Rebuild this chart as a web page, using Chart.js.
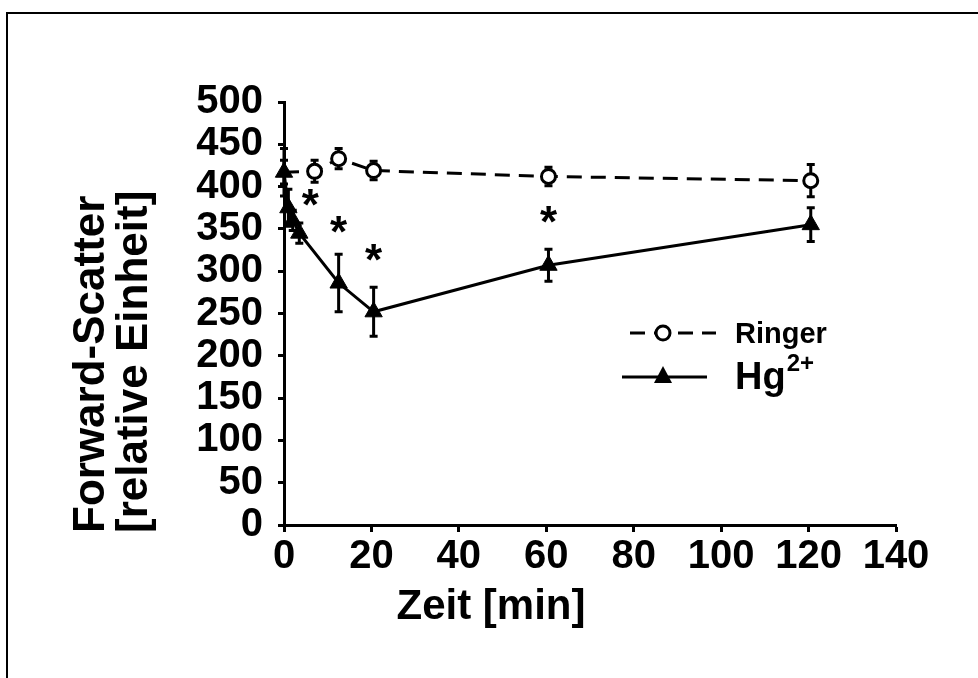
<!DOCTYPE html>
<html><head><meta charset="utf-8">
<script src="https://cdn.jsdelivr.net/npm/chart.js@4/dist/chart.umd.min.js"></script>
<style>html,body{margin:0;padding:0;background:#fff;overflow:hidden}#wrap{position:relative;width:978px;height:678px}</style>
</head><body><div id="wrap"><canvas id="c" width="978" height="678"></canvas></div>
<script>
// ---- data ----
const ringerTime   = [0, 7, 12.5, 20.5, 60.5, 120.5];
const ringerValues = [417, 418, 433, 419, 412, 407];
const ringerErrors = [28, 13, 12, 11, 11, 19];

const hgTime   = [0, 1, 2, 3.5, 12.5, 20.5, 60.5, 120.5];
const hgValues = [417, 375, 360, 345, 286, 252, 307, 355];
const hgErrors = [14, 22, 12, 12, 34, 29, 19, 20];

const starTime   = [6, 12.5, 20.5, 60.5];
const starValues = [370, 339, 306, 350];

const xTickValues = [0, 20, 40, 60, 80, 100, 120, 140];
const yTickValues = [0, 50, 100, 150, 200, 250, 300, 350, 400, 450, 500];

const xTitle = 'Zeit [min]';
const yTitleLines = ['Forward-Scatter', '[relative Einheit]'];
const seriesNames = ['Ringer', 'Hg'];
const hgSup = '2+';

const FONT = '"Liberation Sans", Arial, sans-serif';

const pts = (t, v) => t.map((x, i) => ({x: x, y: v[i]}));

const deco = {
  id: 'deco',
  beforeDatasetsDraw(chart) {
    const ctx = chart.ctx, xs = chart.scales.x, ys = chart.scales.y;
    const sets = [[hgTime, hgValues, hgErrors], [ringerTime, ringerValues, ringerErrors]];
    ctx.save();
    ctx.strokeStyle = '#000'; ctx.lineWidth = 3; ctx.setLineDash([]);
    sets.forEach(([t, v, e]) => {
      t.forEach((tt, i) => {
        const x = xs.getPixelForValue(tt);
        const y1 = ys.getPixelForValue(v[i] + e[i]);
        const y2 = ys.getPixelForValue(v[i] - e[i]);
        ctx.beginPath();
        ctx.moveTo(x, y1); ctx.lineTo(x, y2);
        ctx.moveTo(x - 4, y1); ctx.lineTo(x + 4, y1);
        ctx.moveTo(x - 4, y2); ctx.lineTo(x + 4, y2);
        ctx.stroke();
      });
    });
    ctx.restore();
  },
  afterDraw(chart) {
    const ctx = chart.ctx, xs = chart.scales.x, ys = chart.scales.y, ca = chart.chartArea;
    ctx.save();
    // frame
    ctx.strokeStyle = '#000'; ctx.lineWidth = 2;
    ctx.beginPath();
    ctx.moveTo(7, 680); ctx.lineTo(7, 13); ctx.lineTo(980, 13);
    ctx.stroke();
    ctx.fillStyle = '#000';
    // asterisks
    ctx.font = 'bold 44px ' + FONT;
    ctx.textAlign = 'center'; ctx.textBaseline = 'alphabetic';
    starTime.forEach((t, i) => {
      const x = xs.getPixelForValue(t), y = ys.getPixelForValue(starValues[i]);
      const m = ctx.measureText('*');
      const h = m.actualBoundingBoxAscent - m.actualBoundingBoxDescent;
      ctx.fillText('*', x, y + m.actualBoundingBoxAscent - h / 2);
    });
    // x title
    ctx.font = 'bold 42px ' + FONT;
    ctx.textAlign = 'center'; ctx.textBaseline = 'alphabetic';
    ctx.fillText(xTitle, ca.left + 207, 619);
    // y title (two lines, start-aligned at bottom)
    ctx.font = 'bold 44px ' + FONT;
    ctx.textAlign = 'left'; ctx.textBaseline = 'alphabetic';
    [[104, yTitleLines[0]], [147, yTitleLines[1]]].forEach(([bx, s]) => {
      ctx.save();
      ctx.translate(bx, ca.bottom + 8);
      ctx.rotate(-Math.PI / 2);
      ctx.fillText(s, 0, 0);
      ctx.restore();
    });
    // legend
    const ly1 = 333, ly2 = 377;
    ctx.lineWidth = 3; ctx.strokeStyle = '#000';
    ctx.setLineDash([15, 9]);
    ctx.beginPath(); ctx.moveTo(630, ly1); ctx.lineTo(716, ly1); ctx.stroke();
    ctx.setLineDash([]);
    ctx.beginPath(); ctx.arc(663, ly1, 7, 0, Math.PI * 2);
    ctx.fillStyle = '#fff'; ctx.fill(); ctx.stroke();
    ctx.fillStyle = '#000';
    ctx.beginPath(); ctx.moveTo(622, ly2); ctx.lineTo(707, ly2); ctx.stroke();
    ctx.beginPath();
    ctx.moveTo(663, ly2 - 11); ctx.lineTo(672, ly2 + 6); ctx.lineTo(654, ly2 + 6); ctx.closePath();
    ctx.fill();
    ctx.textAlign = 'left'; ctx.textBaseline = 'alphabetic';
    ctx.font = 'bold 29px ' + FONT;
    ctx.fillText(seriesNames[0], 735, ly1 + 10);
    ctx.font = 'bold 38px ' + FONT;
    ctx.fillText(seriesNames[1], 735, ly2 + 12);
    const w = ctx.measureText(seriesNames[1]).width;
    ctx.font = 'bold 24px ' + FONT;
    ctx.fillText(hgSup, 735 + w + 1, ly2 - 6);
    ctx.restore();
  }
};

new Chart(document.getElementById('c'), {
  type: 'line',
  data: {
    datasets: [
      {
        label: seriesNames[1] + hgSup,
        data: pts(hgTime, hgValues),
        borderColor: '#000', borderWidth: 3,
        pointStyle: 'triangle', pointRadius: 10,
        pointBackgroundColor: '#000', pointBorderColor: '#000', pointBorderWidth: 1,
        clip: false, order: 0
      },
      {
        label: seriesNames[0],
        data: pts(ringerTime, ringerValues),
        borderColor: '#000', borderWidth: 3, borderDash: [15, 9],
        pointStyle: 'circle',
        pointRadius: c => (c.dataIndex === 0 ? 0 : 7),
        pointBackgroundColor: '#fff', pointBorderColor: '#000', pointBorderWidth: 3,
        clip: false, order: 1
      }
    ]
  },
  options: {
    responsive: false, animation: false, devicePixelRatio: 1,
    layout: {padding: {top: 102, right: 82, bottom: 0, left: 0}},
    plugins: {legend: {display: false}, tooltip: {enabled: false}},
    scales: {
      x: {
        type: 'linear', min: 0, max: 140,
        afterBuildTicks: s => { s.ticks = xTickValues.map(v => ({value: v})); },
        afterFit: s => { s.height = 153; },
        border: {display: true, color: '#000', width: 3},
        grid: {drawOnChartArea: false, drawTicks: true, tickLength: 7, tickWidth: 3, tickColor: '#000'},
        ticks: {color: '#000', font: {family: FONT, size: 40, weight: 'bold'}, padding: 1, maxRotation: 0, autoSkip: false}
      },
      y: {
        type: 'linear', min: 0, max: 500,
        afterBuildTicks: s => { s.ticks = yTickValues.map(v => ({value: v})); },
        afterFit: s => { s.width = 284; },
        border: {display: true, color: '#000', width: 3},
        grid: {drawOnChartArea: false, drawTicks: true, tickLength: 6, tickWidth: 3, tickColor: '#000'},
        ticks: {color: '#000', font: {family: FONT, size: 40, weight: 'bold'}, padding: 15, autoSkip: false}
      }
    }
  },
  plugins: [deco]
});
</script></body></html>
